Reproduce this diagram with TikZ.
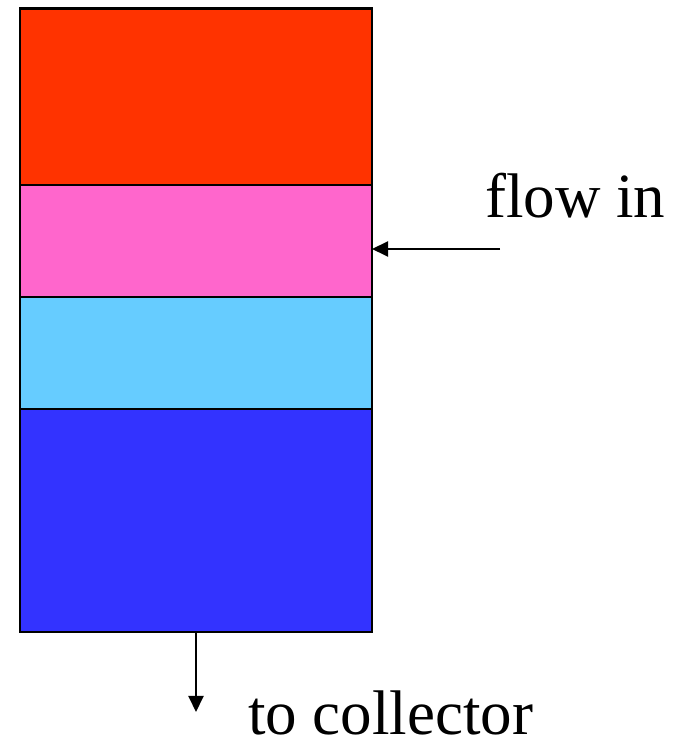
\documentclass[tikz,border=0pt]{standalone}
\usepackage{fontspec}
\setmainfont{Liberation Serif}
\usetikzlibrary{arrows.meta}
\definecolor{cred}{HTML}{FF3300}
\definecolor{cpink}{HTML}{FF66CC}
\definecolor{ccyan}{HTML}{66CCFF}
\definecolor{cblue}{HTML}{3333FF}
\tikzset{
  band/.style={draw=black, line width=1.5pt, minimum width=352pt, inner sep=0pt, outer sep=0pt, anchor=north west},
  flowarrow/.style={line width=2pt, -{Triangle[length=16pt,width=15pt]}},
  lbl/.style={font=\fontsize{63}{70}\selectfont, inner sep=0pt, anchor=base west}
}
\begin{document}
\begin{tikzpicture}[x=1pt,y=1pt]
\useasboundingbox (0,0) rectangle (685,739);
\node[band, fill=cred,  minimum height=176.5pt] (red)  at (20,730.5) {};
\node[band, fill=cpink, minimum height=112pt]   (pink) at (20,554) {};
\node[band, fill=ccyan, minimum height=112pt]   (cyan) at (20,442) {};
\node[band, fill=cblue, minimum height=223pt]   (blue) at (20,330) {};
\draw[black, line width=2.4pt] (red.north west) rectangle (blue.south east);
\node[lbl] (flow) at (485,521) {flow in};
\node[lbl] (coll) at (248,5) {to collector};
\coordinate (fstart) at (500,490);
\coordinate (fend) at (pink.east |- fstart);
\draw[flowarrow] (fstart) -- (fend);
\coordinate (cstart) at (196,107);
\coordinate (cend) at (196,27);
\draw[flowarrow] (cstart) -- (cend);
\end{tikzpicture}
\end{document}
